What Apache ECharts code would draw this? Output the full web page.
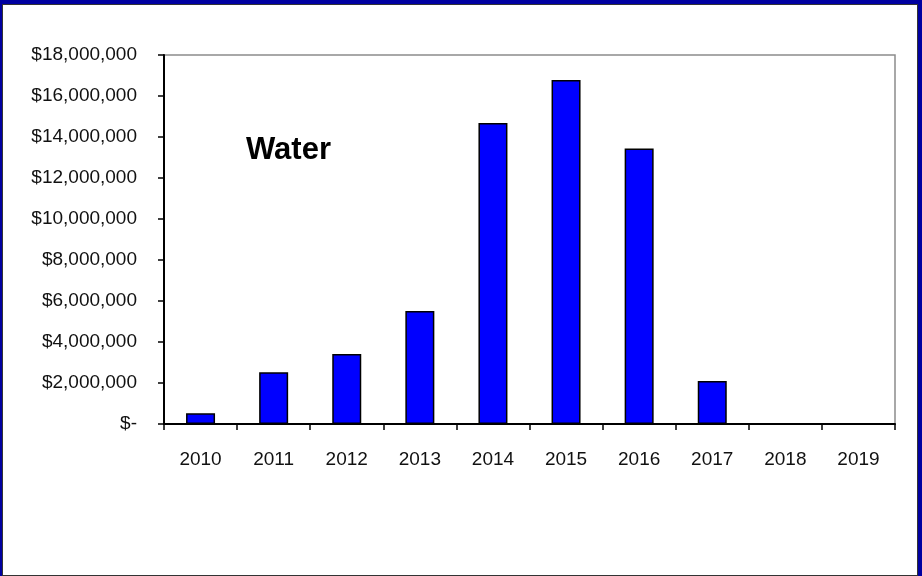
<!DOCTYPE html>
<html>
<head>
<meta charset="utf-8">
<script src="https://cdn.jsdelivr.net/npm/echarts@6/dist/echarts.min.js"></script>
<style>
  html, body { margin: 0; padding: 0; background: #0000A0; }
  #frame {
    position: absolute; left: 2px; top: 4px;
    width: 914px; height: 570px;
    background: #fff; border: 1px solid #333;
  }
  #chart { position: absolute; left: 0; top: 0; width: 922px; height: 576px; }
</style>
</head>
<body>
<div id="frame"></div>
<div id="chart"></div>
<script>
// Water spending by year
const years = ['2010', '2011', '2012', '2013', '2014', '2015', '2016', '2017', '2018', '2019'];
const waterAmounts = [520000, 2530000, 3410000, 5510000, 14680000, 16780000, 13440000, 2100000, 0, 0];
const chartTitle = 'Water';

const fontFamily = '"Liberation Sans", Arial, sans-serif';

const option = {
  animation: false,
  grid: {
    left: 164, top: 55, width: 731, height: 369,
    show: true,
    borderColor: '#8c8c8c',
    borderWidth: 1.5,
    backgroundColor: 'transparent'
  },
  graphic: [{
    type: 'text',
    left: 246,
    top: 135,
    style: {
      text: chartTitle,
      font: 'bold 31px ' + fontFamily,
      fill: '#000'
    }
  }],
  xAxis: {
    type: 'category',
    data: years,
    axisLine: { lineStyle: { color: '#000', width: 2 } },
    axisTick: { show: true, length: 6, lineStyle: { color: '#000', width: 1.5 } },
    axisLabel: { margin: 26, fontSize: 19, color: '#111', fontFamily }
  },
  yAxis: {
    type: 'value',
    min: 0,
    max: 18000000,
    interval: 2000000,
    splitLine: { show: false },
    axisLine: { show: true, lineStyle: { color: '#000', width: 2 } },
    axisTick: { show: true, length: 6, lineStyle: { color: '#000', width: 1.5 } },
    axisLabel: {
      margin: 27,
      fontSize: 19,
      color: '#111',
      fontFamily,
      formatter: v => v === 0 ? '$-' : '$' + v.toLocaleString('en-US')
    }
  },
  series: [{
    type: 'bar',
    data: waterAmounts,
    barWidth: 29,
    itemStyle: { color: '#0000FF', borderColor: '#000', borderWidth: 1.5 }
  }]
};

const myChart = echarts.init(document.getElementById('chart'));
myChart.setOption(option);
</script>
</body>
</html>
